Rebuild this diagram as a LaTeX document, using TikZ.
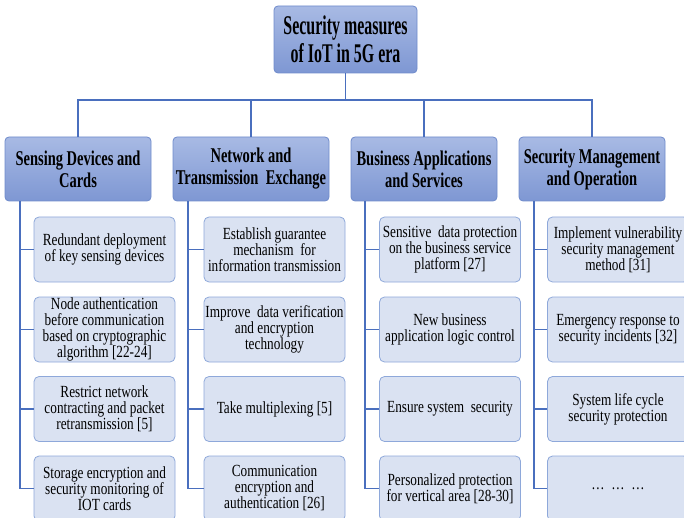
\documentclass[tikz,border=0pt]{standalone}
\usepackage{fontspec}
\setmainfont{Liberation Serif}
\newfontfamily\rootfont{Liberation Serif}[FakeStretch=0.59]
\newfontfamily\catfont{Liberation Serif}[FakeStretch=0.69]
\newfontfamily\childfont{Liberation Serif}[FakeStretch=0.78]
\definecolor{linec}{HTML}{4A6FBE}
\definecolor{cattop}{HTML}{A8BAE4}
\definecolor{catbot}{HTML}{7E97D3}
\definecolor{catbord}{HTML}{6F8BCB}
\definecolor{childfill}{HTML}{DAE2F2}
\definecolor{childbord}{HTML}{8EA8DA}
\tikzset{
  x=1pt,y=-1pt,
  rootbox/.style={draw=catbord, line width=0.8pt, rounded corners=4pt, top color=cattop, bottom color=catbot,
    minimum width=143pt, minimum height=67pt, inner sep=0pt, align=center,
    font=\rootfont\bfseries\fontsize{27}{28}\selectfont},
  catbox/.style={draw=catbord, line width=0.8pt, rounded corners=4pt, top color=cattop, bottom color=catbot,
    minimum height=64pt, inner sep=0pt, align=center,
    font=\catfont\bfseries\fontsize{21}{22}\selectfont},
  childbox/.style={draw=childbord, line width=0.8pt, fill=childfill, rounded corners=5pt,
    minimum width=141pt, minimum height=65pt, inner sep=0pt, align=center,
    font=\childfont\fontsize{17}{16}\selectfont},
  conn/.style={draw=linec, line width=1.2pt}
}
\begin{document}
\begin{tikzpicture}
\useasboundingbox (0,0) rectangle (684,518);
\node[rootbox] (root) at (345.5,39.5) {Security measures\\of IoT in 5G era};

\node[catbox, minimum width=146pt] (c1) at (78,169) {Sensing Devices and\\Cards};
\node[catbox, minimum width=156pt] (c2) at (251,169) {Network and\\Transmission\ \ Exchange};
\node[catbox, minimum width=146pt] (c3) at (424,169) {Business Applications\\and Services};
\node[catbox, minimum width=146pt] (c4) at (592,169) {Security Management\\and Operation};

\coordinate (hub) at (345.5,100);
\draw[conn] (root.south) -- (hub);
\draw[conn] (c1.north) |- (hub) -| (c4.north);
\draw[conn] (c2.north) -- (c2.north |- hub);
\draw[conn] (c3.north) -- (c3.north |- hub);

% column 1
\node[childbox] (a1) at (104.5,249.5) {Redundant deployment\\of key sensing devices};
\node[childbox] (a2) at (104.5,329.5) {Node authentication\\before communication\\based on cryptographic\\algorithm [22-24]};
\node[childbox] (a3) at (104.5,409) {Restrict network\\contracting and packet\\retransmission [5]};
\node[childbox] (a4) at (104.5,488.5) {Storage encryption and\\security monitoring of\\IOT cards};
% column 2
\node[childbox] (b1) at (274.5,249.5) {Establish guarantee\\mechanism\ \ for\\information transmission};
\node[childbox] (b2) at (274.5,329.5) {Improve\ \ data verification\\and encryption\\technology};
\node[childbox] (b3) at (274.5,409) {Take multiplexing [5]};
\node[childbox] (b4) at (274.5,488.5) {Communication\\encryption and\\authentication [26]};
% column 3
\node[childbox] (d1) at (450,249.5) {Sensitive\ \ data protection\\on the business service\\platform [27]};
\node[childbox] (d2) at (450,329.5) {New business\\application logic control};
\node[childbox] (d3) at (450,409) {Ensure system\ \ security};
\node[childbox] (d4) at (450,488.5) {Personalized protection\\for vertical area [28-30]};
% column 4
\node[childbox] (e1) at (618,249.5) {Implement vulnerability\\security management\\method [31]};
\node[childbox] (e2) at (618,329.5) {Emergency response to\\security incidents [32]};
\node[childbox] (e3) at (618,409) {System life cycle\\security protection};
\node[childbox] (e4) at (618,488.5) {\dots\ \ \dots\ \ \dots};

% trunks
\coordinate (t1) at (20,201);
\coordinate (t2) at (188,201);
\coordinate (t3) at (365,201);
\coordinate (t4) at (534,201);
\draw[conn] (t1) |- (a4.west);
\draw[conn] (t1 |- a1.west) -- (a1.west);
\draw[conn] (t1 |- a2.west) -- (a2.west);
\draw[conn] (t1 |- a3.west) -- (a3.west);
\draw[conn] (t2) |- (b4.west);
\draw[conn] (t2 |- b1.west) -- (b1.west);
\draw[conn] (t2 |- b2.west) -- (b2.west);
\draw[conn] (t2 |- b3.west) -- (b3.west);
\draw[conn] (t3) |- (d4.west);
\draw[conn] (t3 |- d1.west) -- (d1.west);
\draw[conn] (t3 |- d2.west) -- (d2.west);
\draw[conn] (t3 |- d3.west) -- (d3.west);
\draw[conn] (t4) |- (e4.west);
\draw[conn] (t4 |- e1.west) -- (e1.west);
\draw[conn] (t4 |- e2.west) -- (e2.west);
\draw[conn] (t4 |- e3.west) -- (e3.west);
\end{tikzpicture}
\end{document}
